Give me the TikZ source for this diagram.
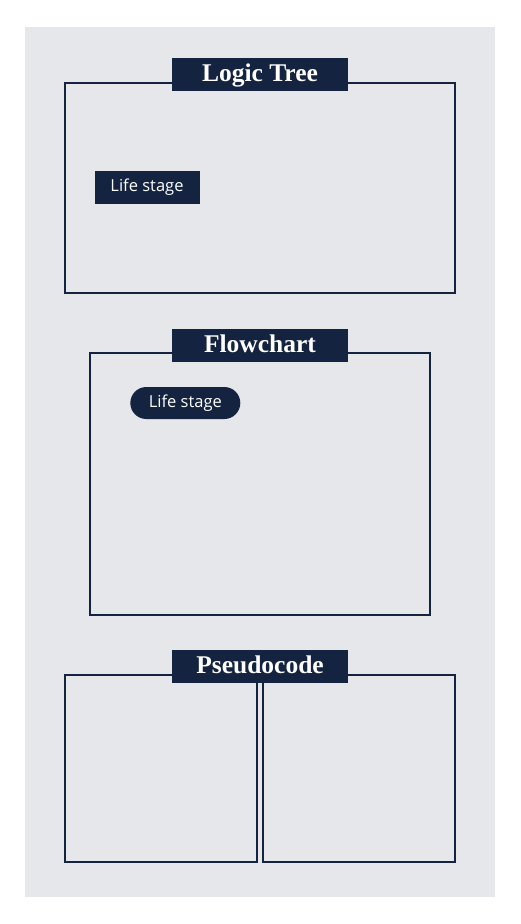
\documentclass[tikz,border=0pt]{standalone}
\usepackage{fontspec}
\setmainfont{Open Sans}
\newfontfamily\titlefont{Liberation Serif}
\definecolor{navy}{HTML}{14233F}
\definecolor{bggray}{HTML}{E6E7EB}
\begin{document}
\begin{tikzpicture}[x=1pt,y=-1pt,
  frame/.style={draw=navy,line width=2pt,inner sep=0pt,minimum width=#1},
  titlebox/.style={fill=navy,text=white,inner sep=0pt,minimum width=176pt,minimum height=33pt,
    text height=20pt,text depth=5.6pt,
    font=\titlefont\bfseries\fontsize{25.5}{28}\selectfont},
  lifebox/.style={fill=navy,text=white,inner sep=0pt,minimum height=33pt,
    text height=13pt,text depth=4.6pt,
    font=\fontsize{16.5}{19}\selectfont}]
\useasboundingbox (0,0) rectangle (520,924);
\fill[white] (0,0) rectangle (520,924);
\fill[bggray] (25,27) rectangle (495,897);
% Logic Tree
\node[frame=390pt,minimum height=210pt] (lt) at (260,188) {};
\node[titlebox] (ltt) at (260,74.5) {Logic Tree};
\node[lifebox,minimum width=105pt] (ls1) at (147,187.5) {Life stage};
% Flowchart
\node[frame=340pt,minimum height=262pt] (fc) at (260,484) {};
\node[titlebox] (fct) at (260,345) {Flowchart};
\node[lifebox,minimum width=110pt,minimum height=32pt,rounded corners=16pt] (ls2) at (185.3,403) {Life stage};
% Pseudocode
\node[frame=192pt,minimum height=187.5pt] (pl) at (160.5,768.25) {};
\node[frame=192.5pt,minimum height=187.5pt] (pr) at (358.75,768.25) {};
\node[titlebox] (pct) at (260,666.5) {Pseudocode};
\end{tikzpicture}
\end{document}
